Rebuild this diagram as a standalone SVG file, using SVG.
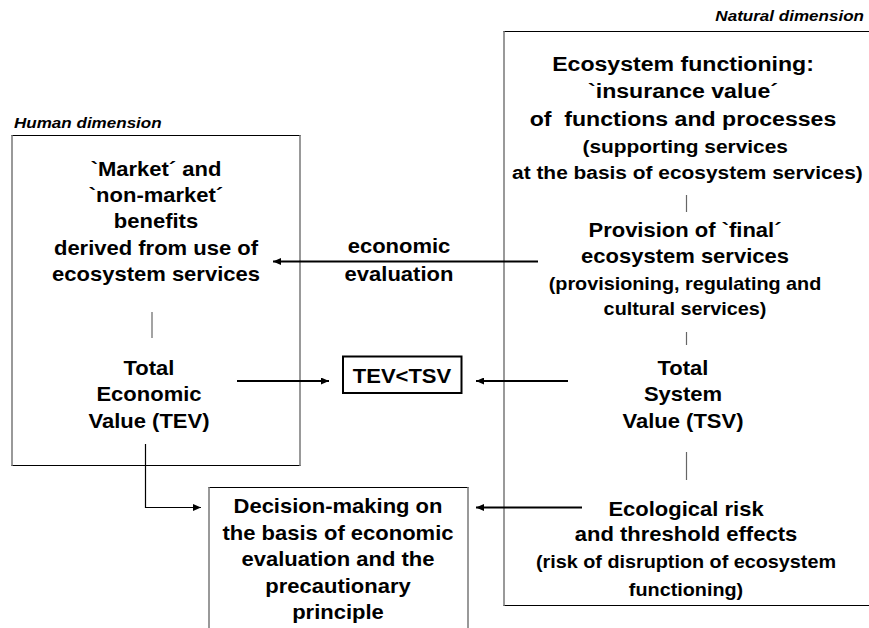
<svg xmlns="http://www.w3.org/2000/svg" width="869" height="628" viewBox="0 0 869 628">
<defs>
<style>
text{font-family:"Liberation Sans",Arial,sans-serif;font-weight:bold;fill:#000;text-anchor:middle}
.t20{font-size:20px}
.t21{font-size:21px}
.t18{font-size:18px}
.t19{font-size:19px}
.lab{font-size:15.5px;font-style:italic}
.hz{stroke:#000;stroke-width:1.2;fill:none}
.vt{stroke:#777;stroke-width:1.5;fill:none}
.tick{stroke:#666;stroke-width:1.2}
.arr{stroke:#000;stroke-width:2;fill:none}
.arr1{stroke:#000;stroke-width:1.2;fill:none}
</style>
<marker id="ah" markerUnits="userSpaceOnUse" markerWidth="9" markerHeight="7" refX="8" refY="3.5" orient="auto">
<path d="M0,0 L8,3.5 L0,7 z" fill="#000"/>
</marker>
</defs>
<rect width="869" height="628" fill="#fff"/>

<g id="human-label"><g transform="translate(14,0) scale(1.1,1)"><text class="lab" x="0" y="128" style="text-anchor:start">Human dimension</text></g></g>
<g id="natural-label"><g transform="translate(864,0) scale(1.1,1)"><text class="lab" x="0" y="21" style="text-anchor:end">Natural dimension</text></g></g>

<g id="human-box">
<line class="hz" x1="11.5" y1="135.5" x2="300.5" y2="135.5"/>
<line class="hz" x1="11.5" y1="465.5" x2="300.5" y2="465.5"/>
<line class="vt" x1="12" y1="135" x2="12" y2="466"/>
<line class="vt" x1="300" y1="135" x2="300" y2="466"/>
<g transform="translate(156,0) scale(1.1,1)">
<text class="t20" x="0" y="176">`Market´ and</text>
<text class="t20" x="0" y="202">`non-market´</text>
<text class="t20" x="0" y="228">benefits</text>
<text class="t20" x="0" y="255">derived from use of</text>
<text class="t20" x="0" y="281">ecosystem services</text>
</g>
<line class="tick" x1="152" y1="312" x2="152" y2="338"/>
<g transform="translate(149,0) scale(1.1,1)">
<text class="t20" x="0" y="375">Total</text>
<text class="t20" x="0" y="401.5">Economic</text>
<text class="t20" x="0" y="428">Value (TEV)</text>
</g>
</g>

<g id="natural-box">
<line class="hz" x1="503.5" y1="31.5" x2="869" y2="31.5"/>
<line class="hz" x1="503.5" y1="605.5" x2="869" y2="605.5"/>
<line class="vt" x1="504" y1="31" x2="504" y2="606"/>
<g transform="translate(683,0) scale(1.1,1)">
<text class="t21" x="0" y="71">Ecosystem functioning:</text>
<text class="t21" x="0" y="98">`insurance value´</text>
<text class="t21" x="0" y="126" xml:space="preserve">of  functions and processes</text>
<text class="t19" x="2" y="153">(supporting services</text>
<text class="t19" x="4" y="179">at the basis of ecosystem services)</text>
</g>
<line class="tick" x1="686.5" y1="195" x2="686.5" y2="212"/>
<g transform="translate(685,0) scale(1.1,1)">
<text class="t20" x="0" y="237">Provision of `final´</text>
<text class="t20" x="0" y="263">ecosystem services</text>
<text class="t18" x="0" y="290">(provisioning, regulating and</text>
<text class="t18" x="0" y="315">cultural services)</text>
</g>
<line class="tick" x1="686.5" y1="332" x2="686.5" y2="345"/>
<g transform="translate(683,0) scale(1.1,1)">
<text class="t20" x="0" y="375">Total</text>
<text class="t20" x="0" y="401">System</text>
<text class="t20" x="0" y="428">Value (TSV)</text>
</g>
<line class="tick" x1="686.5" y1="452" x2="686.5" y2="480"/>
<g transform="translate(686,0) scale(1.1,1)">
<text class="t20" x="0" y="516">Ecological risk</text>
<text class="t20" x="0" y="541">and threshold effects</text>
<text class="t18" x="0" y="568">(risk of disruption of ecosystem</text>
<text class="t18" x="0" y="596">functioning)</text>
</g>
</g>

<g id="tev-tsv">
<rect x="343" y="356.5" width="118.5" height="36.5" fill="#fff" stroke="#000" stroke-width="2"/>
<g transform="translate(402,0) scale(1.1,1)"><text class="t20" x="0" y="383">TEV&lt;TSV</text></g>
</g>

<g id="decision-box">
<line class="hz" x1="208.5" y1="487.5" x2="468.5" y2="487.5"/>
<line class="vt" x1="209" y1="487" x2="209" y2="628"/>
<line class="vt" x1="468" y1="487" x2="468" y2="628"/>
<g transform="translate(338,0) scale(1.1,1)">
<text class="t20" x="0" y="513">Decision-making on</text>
<text class="t20" x="0" y="540">the basis of economic</text>
<text class="t20" x="0" y="566">evaluation and the</text>
<text class="t20" x="0" y="593">precautionary</text>
<text class="t20" x="0" y="619">principle</text>
</g>
</g>

<g id="econ-label">
<g transform="translate(399,0) scale(1.1,1)">
<text class="t20" x="0" y="253">economic</text>
<text class="t20" x="0" y="281">evaluation</text>
</g>
</g>

<g id="connectors">
<line class="arr" x1="538" y1="261.5" x2="273" y2="261.5" marker-end="url(#ah)"/>
<line class="arr" x1="237" y1="381" x2="329" y2="381" marker-end="url(#ah)"/>
<line class="arr" x1="568" y1="381" x2="476" y2="381" marker-end="url(#ah)"/>
<polyline class="arr1" points="145.5,444 145.5,507.5 201,507.5" marker-end="url(#ah)"/>
<line class="arr" x1="582" y1="507.5" x2="476" y2="507.5" marker-end="url(#ah)"/>
</g>
</svg>
